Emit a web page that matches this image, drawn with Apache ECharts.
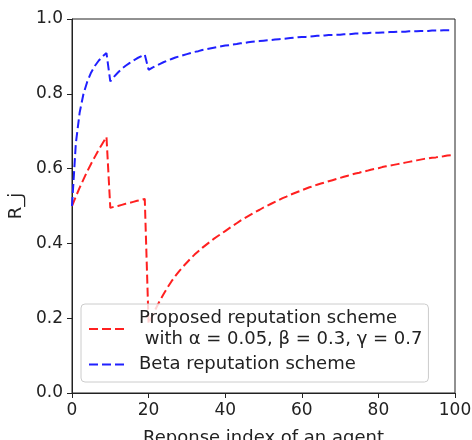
<!DOCTYPE html>
<html>
<head>
<meta charset="utf-8">
<script src="https://cdn.jsdelivr.net/npm/echarts@6/dist/echarts.min.js"></script>
<style>
  html, body { margin: 0; padding: 0; background: #fff; }
  #container { width: 472px; height: 440px; }
</style>
</head>
<body>
<div id="container"></div>
<script>
var dom = document.getElementById("container");
var myChart = echarts.init(dom);

// reputation value R_j after each response (index 0..99)
var proposedValues = [
    0.500, 0.525, 0.549, 0.571, 0.593, 0.613, 0.632, 0.651, 0.668, 0.685,
    0.495, 0.498, 0.500, 0.503, 0.506, 0.508, 0.511, 0.514, 0.516, 0.519,
    0.185, 0.207, 0.228, 0.248, 0.266, 0.283, 0.299, 0.313, 0.326, 0.338,
    0.349, 0.360, 0.370, 0.379, 0.388, 0.396, 0.404, 0.412, 0.419, 0.426,
    0.433, 0.440, 0.447, 0.454, 0.461, 0.467, 0.473, 0.479, 0.485, 0.490,
    0.496, 0.501, 0.506, 0.511, 0.516, 0.521, 0.525, 0.530, 0.534, 0.538,
    0.542, 0.546, 0.550, 0.553, 0.557, 0.560, 0.563, 0.566, 0.569, 0.572,
    0.575, 0.578, 0.581, 0.584, 0.587, 0.589, 0.592, 0.594, 0.597, 0.599,
    0.601, 0.604, 0.606, 0.608, 0.610, 0.612, 0.614, 0.616, 0.618, 0.620,
    0.622, 0.624, 0.626, 0.627, 0.629, 0.630, 0.632, 0.633, 0.635, 0.636
];
var betaValues = [
    0.500, 0.667, 0.750, 0.800, 0.833, 0.857, 0.875, 0.889, 0.900, 0.909,
    0.833, 0.846, 0.857, 0.867, 0.875, 0.882, 0.889, 0.895, 0.900, 0.905,
    0.864, 0.870, 0.875, 0.880, 0.885, 0.889, 0.893, 0.897, 0.900, 0.903,
    0.906, 0.909, 0.912, 0.914, 0.917, 0.919, 0.921, 0.923, 0.925, 0.927,
    0.929, 0.930, 0.932, 0.933, 0.935, 0.936, 0.938, 0.939, 0.940, 0.941,
    0.942, 0.943, 0.944, 0.945, 0.946, 0.947, 0.948, 0.949, 0.950, 0.951,
    0.952, 0.952, 0.953, 0.954, 0.955, 0.955, 0.956, 0.957, 0.957, 0.958,
    0.958, 0.959, 0.959, 0.960, 0.961, 0.961, 0.962, 0.962, 0.963, 0.963,
    0.963, 0.964, 0.964, 0.965, 0.965, 0.966, 0.966, 0.966, 0.967, 0.967,
    0.967, 0.968, 0.968, 0.968, 0.969, 0.969, 0.969, 0.970, 0.970, 0.970
];
var seriesNames = [
    'Proposed reputation scheme\n with \u03b1 = 0.05, \u03b2 = 0.3, \u03b3 = 0.7',
    'Beta reputation scheme'
];
var xTicks = [0, 20, 40, 60, 80, 100];
var yTicks = [0.0, 0.2, 0.4, 0.6, 0.8, 1.0];

function toPoints(vals) {
    return vals.map(function (v, i) { return [i, v]; });
}

var font = 'DejaVu Sans';
var textColor = '#222';

option = {
    animation: false,
    textStyle: { fontFamily: font },
    grid: {
        left: 72, right: 17, top: 19, bottom: 47,
        outerBoundsMode: 'none',
        containLabel: false,
        show: true, borderColor: '#222', borderWidth: 1
    },
    legend: {
        orient: 'vertical',
        left: 81, top: 304,
        padding: [4, 6, 7, 7],
        itemGap: 4,
        itemWidth: 36,
        itemHeight: 14,
        itemStyle: { opacity: 0 },
        backgroundColor: 'rgba(255,255,255,0.8)',
        borderColor: '#cccccc',
        borderWidth: 1,
        borderRadius: 4,
        textStyle: {
            fontFamily: font, fontSize: 18, color: textColor, lineHeight: 21,
            padding: [0, 0, 0, 9]
        },
        data: seriesNames
    },
    xAxis: {
        type: 'value',
        min: xTicks[0], max: xTicks[xTicks.length - 1], interval: 20,
        name: 'Reponse index of an agent',
        nameLocation: 'middle',
        nameGap: 36,
        nameTextStyle: { fontFamily: font, fontSize: 18, color: textColor },
        axisLine: { lineStyle: { color: '#222', width: 1 } },
        axisTick: { show: true, length: 5, lineStyle: { color: '#222' } },
        axisLabel: { margin: 9, fontSize: 17, color: textColor, fontFamily: font, showMinLabel: true, showMaxLabel: true },
        splitLine: { show: false }
    },
    yAxis: {
        type: 'value',
        min: yTicks[0], max: yTicks[yTicks.length - 1], interval: 0.2,
        name: 'R_j',
        nameLocation: 'middle',
        nameRotate: 90,
        nameGap: 43,
        nameTextStyle: { fontFamily: font, fontSize: 18, color: textColor },
        axisLine: { show: true, lineStyle: { color: '#222', width: 1 } },
        axisTick: { show: true, length: 5, lineStyle: { color: '#222' } },
        axisLabel: {
            margin: 9, fontSize: 17, color: textColor, fontFamily: font,
            formatter: function (v) { return v.toFixed(1); }
        },
        splitLine: { show: false }
    },
    series: [
        {
            name: seriesNames[0],
            type: 'line',
            symbol: 'none',
            color: '#ff2020',
            lineStyle: { color: '#ff2020', width: 2, type: [9, 4] },
            data: toPoints(proposedValues)
        },
        {
            name: seriesNames[1],
            type: 'line',
            symbol: 'none',
            color: '#2020ff',
            lineStyle: { color: '#2020ff', width: 2, type: [9, 4] },
            data: toPoints(betaValues)
        }
    ]
};

if (option && typeof option === "object") {
    myChart.setOption(option, true);
}
</script>
</body>
</html>
